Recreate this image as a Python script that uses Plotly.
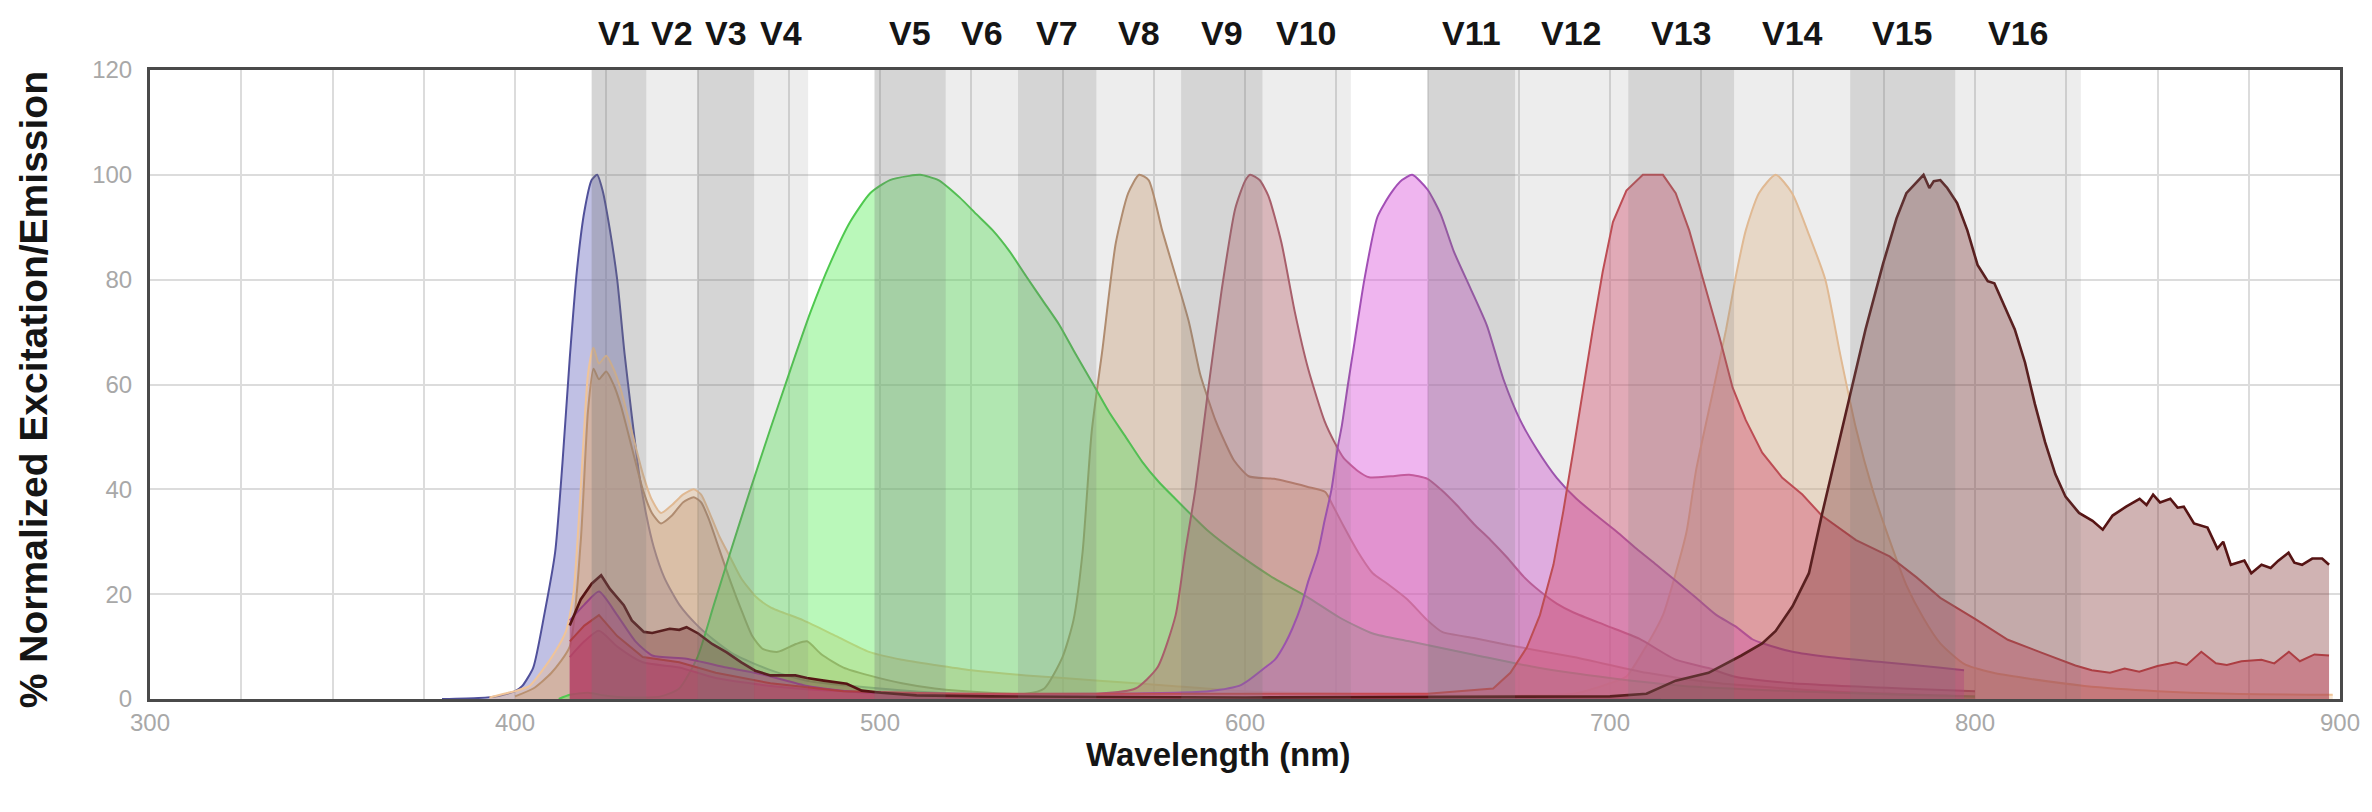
import plotly.graph_objects as go

# ---------------- data ----------------
band_names = ["V1", "V2", "V3", "V4", "V5", "V6", "V7", "V8",
              "V9", "V10", "V11", "V12", "V13", "V14", "V15", "V16"]
band_start = [421, 436, 450, 465.5, 498.5, 518, 537.8, 559.3,
              582.5, 604.8, 650.2, 674, 705, 734, 765.8, 794.6]
band_end = [436, 450, 465.5, 480.3, 518, 537.8, 559.3, 582.5,
            604.8, 629, 674, 705, 734, 765.8, 794.6, 829]
band_dark = [True, False, True, False, True, False, True, False,
             True, False, True, False, True, False, True, False]

x_ticks = [300, 400, 500, 600, 700, 800, 900]
y_ticks = [0, 20, 40, 60, 80, 100, 120]

bv421_nm = [380, 390, 395, 400, 402, 405, 408, 411, 413, 415, 417, 419, 421, 422.5,
            424, 426, 428, 430, 432, 434, 436, 438, 441, 445, 450, 455, 460, 470,
            480, 500, 520, 550, 600, 650, 714]
bv421_val = [0, 0.2, 0.5, 1.5, 2.5, 6, 16, 28, 45, 65, 82, 93, 99, 100,
             97, 89.5, 80, 66, 54, 43, 35, 29, 23, 18, 14, 11, 8.5, 5.5,
             3.5, 2, 1, 0.5, 0.3, 0.2, 0]

bv750_nm = [393, 397, 400, 404, 407, 411, 414, 416, 418, 420, 421.5, 423, 425, 427,
            429, 432, 435, 437.5, 440, 443, 446, 449, 451, 453, 456, 459, 462, 466,
            470, 479, 488, 497, 506, 515, 525, 540, 560, 580, 600, 630, 660, 690,
            700, 704.5, 709, 714.5, 718, 721, 723.6, 728, 731.8, 734.5, 737.2, 740.8,
            745.4, 749.9, 754.5, 759, 763, 767.4, 772, 776.6, 781.2, 785.9, 790.5,
            797, 805, 813.6, 830, 850, 870, 898]
bv750_val = [0.3, 1, 1.5, 2.5, 5, 9, 13, 20, 40, 62, 67, 64, 65.5, 63,
             59, 51, 43, 38, 35.5, 37, 39, 40, 39, 36, 31, 27, 23, 19.5,
             17.5, 15, 12, 9, 7.5, 6.5, 5.5, 4.5, 3.5, 2.5, 1.5, 1, 0.7, 1,
             3, 4.3, 9, 16, 24, 32, 43.7, 58, 70.5, 80.7, 89.4, 96.5,
             100, 96.5, 88.6, 80, 66, 51.6, 39.8, 30.3, 21.7, 15.4, 10.6,
             6.7, 5, 4, 2.5, 1.5, 1, 0.8]

bv570_nm = [400, 405, 410, 415, 418, 420, 421.5, 423, 425, 427, 429, 432, 435, 437.5,
            440, 443, 446, 449, 451, 453, 456, 459, 462, 465, 468, 472, 477, 480,
            484, 490, 497, 506, 515, 530, 540, 545, 550, 553, 555.5, 558, 561, 564.6,
            568, 571, 573.6, 577.3, 581, 584.6, 587.7, 590, 592, 594.5, 597, 601,
            608, 617, 622, 624, 627, 631, 635, 639, 644.5, 650, 654, 663, 672, 690,
            710, 730, 760, 800]
bv570_val = [0.5, 2, 5, 10, 30, 55, 63, 61, 62.5, 60, 56, 48, 40, 35.5,
             33.5, 35, 37.5, 38.5, 37.5, 34.5, 28.5, 22.5, 17, 12, 9.5, 9, 10.5, 11,
             8.5, 6, 4.5, 3, 2, 1.2, 1, 2, 8, 15, 28, 51, 67, 87,
             96.5, 100, 99, 89.4, 80.7, 72, 62, 57, 53, 49, 45.5, 42.5,
             42, 40.5, 39.5, 37, 33, 28, 24, 22, 19, 15, 12.8, 11.6, 10.3, 8,
             5, 3, 1.5, 0.5]

bv510_nm = [412, 415, 420, 425, 430, 440, 445, 450, 454.5, 459, 464.5, 470, 475.4,
            480.9, 486.4, 491.8, 497.3, 502.7, 508, 511, 516, 521.8, 526.4, 530.9,
            535.5, 540, 544.6, 549.1, 553.6, 558.2, 562.7, 567.3, 571.8, 576.4,
            580.9, 585.5, 590, 599, 608, 617, 626, 635, 645, 663, 680, 700, 720,
            750, 780, 800]
bv510_val = [0, 0.8, 1.2, 0.6, 0.3, 0.5, 2, 8, 18, 28, 40, 51.6, 62.7,
             73.7, 83.2, 91, 96.5, 99, 99.8, 100, 99, 95.7, 92.5, 89.4,
             85.4, 80.7, 76, 71.4, 65.8, 60.3, 54.8, 50, 45.3, 41.4,
             38.2, 35, 32, 27.2, 23, 19.5, 15.5, 12.5, 11, 8.4, 6, 4, 2.5,
             1.5, 0.8, 0.5]

bv605_nm = [415, 419, 423, 428, 435, 445, 455, 470, 490, 520, 560, 570, 576, 581,
            583.6, 586.4, 590, 593.6, 597.3, 600, 601.4, 604, 606.4, 610, 613.6,
            617.3, 621.8, 624.5, 627, 630.9, 634, 640, 645, 650, 653.6, 658, 662.7,
            667.3, 671.8, 676.4, 680.9, 685.4, 690, 699, 708, 718, 727, 734, 750,
            780, 800]
bv605_val = [8, 11, 13, 10, 7, 6, 4, 2.5, 1.5, 1, 1, 2, 6, 16,
             28, 40, 59.5, 78, 93.5, 98.8, 100, 99, 96, 87, 74,
             63, 53, 49, 46, 43.5, 42.3, 42.5, 42.8, 42, 40, 37, 33.4,
             30.3, 27, 23.3, 20.5, 18.2, 16.5, 14, 11.5, 7.5, 5.9, 4.3, 3,
             2, 1.5]

bv650_nm = [415, 419, 423, 428, 433, 437.6, 447, 458, 469, 480, 494, 520, 560, 590,
            599, 605.5, 608.2, 611, 613, 615.5, 617.3, 620, 621.8, 623.7, 625.4,
            626.5, 628.2, 630, 632.7, 636.3, 640, 643, 645.8, 650, 653.6, 657.2,
            661.8, 666.3, 670.8, 675.4, 679.9, 685.4, 690.8, 696.3, 701.7, 707.2,
            712.7, 718.1, 723.6, 729, 734.5, 739, 742, 750, 760, 775, 790, 797]
bv650_val = [15, 18, 20.5, 16, 11, 8.3, 7.7, 6, 4.5, 2.5, 1.3, 1, 1, 1.5,
             2.7, 6, 7.5, 10.6, 13.5, 18, 22.4, 28, 34, 40, 48,
             52, 60, 68, 80, 92, 96.5, 99, 100, 97.2, 92.5, 85.4,
             78.3, 71.2, 61, 53.2, 47.7, 42.2, 38.2, 35, 32, 28.7,
             25.6, 22.5, 19.3, 16.1, 13.8, 11.4, 10.6, 9, 8, 7, 6, 5.5]

bv711_nm = [415, 419, 423, 428, 435, 445, 455, 470, 490, 520, 600, 650, 668, 672.7,
            677.2, 680.8, 684.5, 687.2, 690, 692.7, 695.4, 698, 700.8, 704.5, 709,
            714.5, 718, 721.7, 726.3, 730, 733.6, 737.2, 741.7, 747.2, 752.7, 758,
            767.4, 776.6, 784, 790.5, 800, 809, 818, 827.5, 832, 837, 841, 845, 850,
            855, 858, 862, 866, 869, 873, 878.5, 882, 886, 889, 893, 897]
bv711_val = [11, 14, 16, 12, 8, 7, 5, 3, 1.5, 1, 1, 1, 2, 5,
             9.8, 16, 25.6, 35.8, 47.6, 59.4, 71, 81.5, 91, 97, 100,
             100, 96.5, 89.4, 78.3, 69, 59.4, 53.2, 47, 42.2, 39, 35,
             30.3, 27.2, 23.2, 19.3, 15.3, 11.3, 8.9, 6.4, 5.5, 5, 5.8, 5.2, 6.3,
             7, 6.5, 9, 6.8, 6.5, 7.2, 7.5, 6.8, 9, 7.2, 8.5, 8.3]

bv786_nm = [415, 418, 421, 423.6, 426, 429.8, 432, 435.3, 437.6, 440, 442.4, 445,
            447, 450.2, 454, 458, 462, 465.8, 470, 476.8, 480, 484.6, 490.9, 495,
            500.3, 510, 530, 600, 700, 710, 718, 727, 736, 741.7, 745.4, 750, 754.5,
            758, 760, 763.7, 767.4, 770, 774.8, 778.5, 781.2, 784, 785.9, 787.5,
            788.7, 790.5, 792.4, 795.1, 797.9, 800.7, 803.5, 805.3, 808.1, 810.9,
            813.7, 816.4, 819.2, 822, 824.8, 828.5, 832.2, 835, 837.7, 841.4, 845.1,
            847, 848.8, 850.7, 853.5, 855.5, 857.2, 860, 863.7, 866.4, 868, 870.1,
            873.8, 875.7, 878.5, 881, 883.1, 885.9, 887.5, 889.6, 892.4, 895.1, 897]
bv786_val = [14, 19, 22, 23.6, 21, 17.9, 15, 12.8, 12.6, 13, 13.4, 13.2,
             13.7, 12.5, 10.5, 8.9, 7, 5.4, 4.5, 4.5, 4, 3.5, 2.9, 1.6,
             1.2, 0.7, 0.5, 0.3, 0.5, 1, 3.5, 5, 8.3, 10.6, 13, 17.7, 24,
             35, 41, 51.6, 62.6, 70.5, 83, 91.7, 96.5, 98.5, 100, 97.5,
             98.8, 99, 97.5, 94.6, 89.4, 82.8, 79.7, 79.3, 75, 70.5,
             64.2, 56.3, 49, 42.9, 38.6, 35.5, 34, 32.3, 35, 36.7, 38.2,
             37, 39, 37.5, 38.2, 36.5, 36.7, 33.5, 32.7, 28.7, 30, 25.6,
             26.4, 24, 25.6, 25, 26.4, 27.9, 26, 25.6, 26.8, 26.8, 25.6]

# ---------------- figure ----------------
series = [
    ("BV421", bv421_nm, bv421_val, "#50509a", "rgba(105,105,190,0.42)", 2, "spline"),
    ("BV750", bv750_nm, bv750_val, "#f0c498", "rgba(238,190,140,0.38)", 2, "spline"),
    ("BV570", bv570_nm, bv570_val, "#b99070", "rgba(210,160,115,0.38)", 2, "spline"),
    ("BV510", bv510_nm, bv510_val, "#4fc94f", "rgba(90,238,90,0.42)", 2, "spline"),
    ("BV605", bv605_nm, bv605_val, "#b05c6a", "rgba(195,95,105,0.38)", 2, "spline"),
    ("BV650", bv650_nm, bv650_val, "#a24fb5", "rgba(220,90,220,0.45)", 2, "spline"),
    ("BV711", bv711_nm, bv711_val, "#c84850", "rgba(225,75,110,0.42)", 2, "linear"),
    ("BV786", bv786_nm, bv786_val, "#561414", "rgba(125,45,45,0.36)", 2.6, "linear"),
]

fig = go.Figure()
for name, xs, ys, lc, fc, lw, shp in series:
    fig.add_trace(go.Scatter(
        x=xs, y=ys, name=name, mode="lines", fill="tozeroy",
        fillcolor=fc, line=dict(color=lc, width=lw, shape=shp, smoothing=0.6),
        hoverinfo="x+y+name",
    ))

shapes = []
for s, e, dark in zip(band_start, band_end, band_dark):
    shapes.append(dict(
        type="rect", xref="x", yref="paper", x0=s, x1=e, y0=0, y1=1,
        fillcolor="rgba(115,115,115,0.30)" if dark else "rgba(115,115,115,0.13)",
        line=dict(width=0), layer="above",
    ))

annotations = []
for name, s, e in zip(band_names, band_start, band_end):
    annotations.append(dict(
        x=(s + e) / 2, xref="x", y=1, yref="paper", yshift=37,
        yanchor="middle", xanchor="center", showarrow=False, text="<b>" + name + "</b>",
        font=dict(family="Liberation Sans, Arial, sans-serif", size=34, color="#151515"),
    ))
annotations.append(dict(
    x=0.488, xref="paper", y=0, yref="paper", yshift=-55, yanchor="middle",
    xanchor="center", showarrow=False, text="<b>Wavelength (nm)</b>",
    font=dict(family="Liberation Sans, Arial, sans-serif", size=33, color="#151515"),
))
annotations.append(dict(
    x=0, xref="paper", xshift=-117, y=0.491, yref="paper", yanchor="middle",
    xanchor="center", textangle=-90, showarrow=False,
    text="<b>% Normalized Excitation/Emission</b>",
    font=dict(family="Liberation Sans, Arial, sans-serif", size=39, color="#151515"),
))

tick_font = dict(family="Liberation Sans, Arial, sans-serif", size=24, color="#a8a8a8")

fig.update_layout(
    width=2372, height=812,
    margin=dict(l=150, r=21, t=70, b=113),
    paper_bgcolor="white", plot_bgcolor="white",
    showlegend=False,
    shapes=shapes, annotations=annotations,
    xaxis=dict(
        range=[300, 900], tickvals=x_ticks, ticktext=[str(v) for v in x_ticks],
        showgrid=True, gridcolor="#dcdcdc", gridwidth=2,
        minor=dict(dtick=25, tick0=300, showgrid=True, gridcolor="#dcdcdc", gridwidth=2),
        showline=True, linecolor="#4a4a4a", linewidth=3, mirror=True,
        ticks="", tickfont=tick_font, ticklabelstandoff=0, zeroline=False,
    ),
    yaxis=dict(
        range=[0, 120], tickvals=y_ticks, ticktext=[str(v) for v in y_ticks],
        showgrid=True, gridcolor="#dcdcdc", gridwidth=2,
        showline=True, linecolor="#4a4a4a", linewidth=3, mirror=True,
        ticks="", tickfont=tick_font, ticklabelstandoff=10, zeroline=False,
    ),
)

fig.write_html("out.html", config={"displayModeBar": False},
               post_script="document.body.style.margin='0';")
